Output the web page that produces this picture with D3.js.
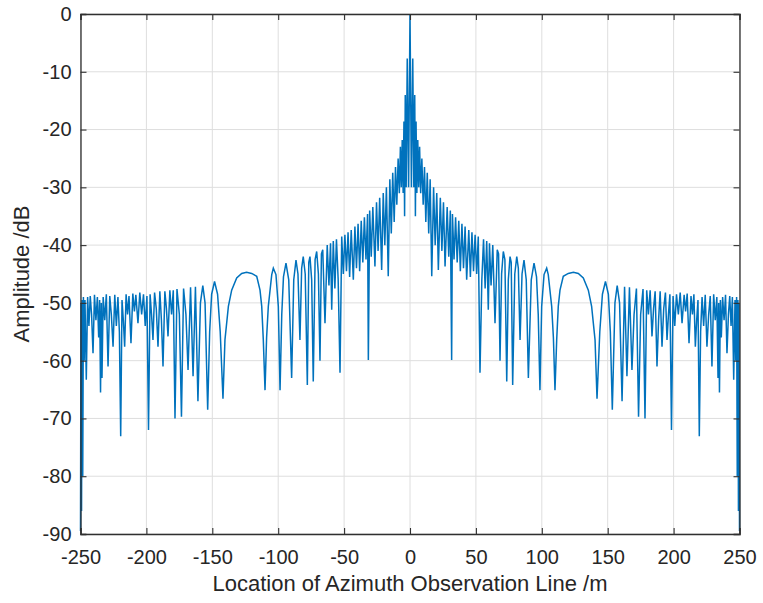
<!DOCTYPE html>
<html>
<head>
<meta charset="utf-8">
<script src="https://cdn.jsdelivr.net/npm/d3@7"></script>
<style>
  body { margin: 0; background: #fff; }
  text { font-family: "Liberation Sans", Arial, sans-serif; fill: #262626; }
</style>
</head>
<body>
<script>
// left half of the azimuth profile (the picture is symmetric about 0)
const locLeft = [
  -250, -249.6, -249.2, -248.8, -248.3, -247.8, -247.2, -246.6, -245.6, -244.6,
  -243.6, -242.6, -241.6, -240.5, -239.4, -238.3, -237.2, -236.2, -235.5, -234.8,
  -234.2, -233.7, -232.8, -231.6, -230.4, -229.1, -227.8, -226.6, -225.3, -224,
  -222.8, -221.6, -220.5, -219.5, -218.5, -217.5, -216.5, -215.4, -214.3, -213.2,
  -211.7, -210.3, -209.1, -208, -206.4, -205, -203.6, -202.2, -200.9, -199.6,
  -198.4, -197.2, -196.1, -195, -193.8, -192.5, -191.2, -189.8, -188.6, -187.4,
  -186, -184.8, -183.6, -182.2, -180.9, -179.6, -178.3, -176.8, -175, -173.4,
  -171.8, -170, -168.4, -166.5, -164.6, -162.8, -160.9, -159, -157.2, -155.5,
  -153.5, -152, -150.5, -148.3, -146, -144, -141.9, -140.4, -137.8, -135.3,
  -131.5, -127.7, -124, -120.1, -116.3, -113.8, -112.5, -111.3, -110, -108.8,
  -107.5, -104.9, -103.7, -101.7, -99.9, -98.6, -97.3, -96, -94.1, -92,
  -89.8, -88.2, -86.5, -85, -83.5, -82.2, -81, -79.5, -77.9, -76.8,
  -75.9, -74.6, -73.4, -72, -70.8, -69.5, -68.3, -67.2, -66.2, -64.5,
  -62.8, -61.5, -60.3, -59.4, -58.2, -57, -55.8, -54.5, -53.1, -51.8,
  -50.6, -49.4, -48.2, -47, -45.8, -44.6, -43, -41.8, -40.6, -39.4,
  -38.2, -37, -35.8, -34.6, -33.4, -32.2, -31.6, -30.6, -29.4, -28.2,
  -26.6, -25.4, -24.2, -23, -21.5, -20.3, -19.1, -17.9, -16.5, -15.3,
  -14.2, -13.1, -12, -11, -10, -9, -8.1, -7.3, -6.6, -5.9,
  -5.2, -4.6, -4.1, -3.6, -2.9, -2.1, -1.1, 0
];
const ampLeft = [
  -89.5, -50, -86, -49.5, -80, -49, -60, -49.5, -63.3, -49,
  -54, -48.8, -52, -58.7, -48.6, -53, -49, -56, -49.5, -65.5,
  -50, -63, -49, -53, -48.5, -61, -48.8, -52, -57.6, -48.6,
  -54, -49, -55, -73.1, -49.5, -53, -57.6, -48.5, -52, -48.8,
  -57, -48.4, -51.5, -48.6, -53.5, -48.2, -52, -48.5, -54, -48.8,
  -72, -48.5, -52, -56.4, -48.2, -51, -57.6, -48, -53, -61,
  -48, -51, -55.8, -47.8, -52, -47.8, -70, -47.6, -52, -69.7,
  -47.5, -52, -61.6, -47.3, -62.7, -47.2, -67, -50, -47, -50,
  -68.5, -55, -48.5, -46.3, -48.5, -55, -66.6, -56.4, -50.6, -47.8,
  -45.7, -44.9, -44.7, -44.9, -45.4, -47.8, -50.6, -56.4, -65.1, -56,
  -50.6, -45.1, -44, -45.1, -50.6, -65.1, -52, -45.5, -43.1, -46,
  -63, -46, -42.6, -45, -56.4, -44, -42, -45, -64.2, -43,
  -42, -46, -63.6, -42.5, -41.1, -45, -60, -41.5, -40.8, -53.5,
  -40, -47, -39.7, -51.2, -39.3, -47.5, -39, -46, -62.1, -38.5,
  -45, -38.2, -44.5, -37.8, -45.5, -37.4, -46, -36.8, -44, -36.3,
  -44.5, -35.8, -43, -35.2, -42.5, -34.6, -59.9, -34, -42, -33.4,
  -43.7, -32.6, -41, -31.8, -44.3, -31, -40, -30, -45.4, -28.6,
  -38, -27.5, -36, -26.5, -33, -25, -31, -23, -30, -21.8,
  -31, -18.6, -35, -14, -30, -7.7, -30, 0
];

const xTickVals = [-250, -200, -150, -100, -50, 0, 50, 100, 150, 200, 250];
const xTickText = ["-250", "-200", "-150", "-100", "-50", "0", "50", "100", "150", "200", "250"];
const yTickVals = [0, -10, -20, -30, -40, -50, -60, -70, -80, -90];
const yTickText = ["0", "-10", "-20", "-30", "-40", "-50", "-60", "-70", "-80", "-90"];
const xTitle = "Location of Azimuth Observation Line /m";
const yTitle = "Amplitude /dB";

function main(){
    const width = 763;
    const height = 603;
    const margin = {top: 14, right: 23.5, bottom: 69, left: 80.5};
    const w = width - margin.left - margin.right;
    const h = height - margin.top - margin.bottom;

    // mirror the left half to get the full profile
    const loc = locLeft.concat(locLeft.slice(0, -1).reverse().map(d => -d));
    const amp = ampLeft.concat(ampLeft.slice(0, -1).reverse());
    const pts = loc.map((d, i) => [d, amp[i]]);

    const svg = d3.select("body").append("svg")
        .attr("width", width)
        .attr("height", height);

    const g = svg.append("g")
        .attr("transform", `translate(${margin.left},${margin.top})`);

    const x = d3.scaleLinear().domain([-250, 250]).range([0, w]);
    const y = d3.scaleLinear().domain([-90, 0]).range([h, 0]);

    // grid
    g.append("g").selectAll("line").data(xTickVals).enter().append("line")
        .attr("x1", d => x(d)).attr("x2", d => x(d))
        .attr("y1", 0).attr("y2", h)
        .attr("stroke", "#dedede").attr("stroke-width", 1);
    g.append("g").selectAll("line").data(yTickVals).enter().append("line")
        .attr("y1", d => y(d)).attr("y2", d => y(d))
        .attr("x1", 0).attr("x2", w)
        .attr("stroke", "#dedede").attr("stroke-width", 1);

    // the trace
    const line = d3.line().x(d => x(d[0])).y(d => y(d[1]));
    g.append("path")
        .datum(pts)
        .attr("d", line)
        .attr("fill", "none")
        .attr("stroke", "#0072BD")
        .attr("stroke-width", 1.5)
        .attr("stroke-linejoin", "miter");

    // axes, ticks pointing inward on all four sides
    const xAxis = d3.axisBottom(x).tickValues(xTickVals)
        .tickFormat((d, i) => xTickText[i]).tickSize(-6).tickPadding(16);
    const yAxis = d3.axisLeft(y).tickValues(yTickVals)
        .tickFormat((d, i) => yTickText[i]).tickSize(-6).tickPadding(9);

    const gx = g.append("g").attr("transform", `translate(0,${h})`).call(xAxis);
    const gy = g.append("g").call(yAxis);
    const gt = g.append("g").call(d3.axisTop(x).tickValues(xTickVals).tickFormat("").tickSize(-6));
    const gr = g.append("g").attr("transform", `translate(${w},0)`)
        .call(d3.axisRight(y).tickValues(yTickVals).tickFormat("").tickSize(-6));

    [gx, gy, gt, gr].forEach(a => {
        a.selectAll("path").attr("stroke", "#303030").attr("stroke-width", 1.3);
        a.selectAll("line").attr("stroke", "#303030").attr("stroke-width", 1.1);
        a.selectAll("text").style("font-size", "20px").attr("fill", "#262626");
    });

    svg.append("text")
        .attr("x", margin.left + w / 2)
        .attr("y", 591)
        .attr("text-anchor", "middle")
        .style("font-size", "22px")
        .text(xTitle);

    svg.append("text")
        .attr("transform", `translate(29,${margin.top + h / 2}) rotate(-90)`)
        .attr("text-anchor", "middle")
        .style("font-size", "22px")
        .text(yTitle);
}

main()
</script>
</body>
</html>
